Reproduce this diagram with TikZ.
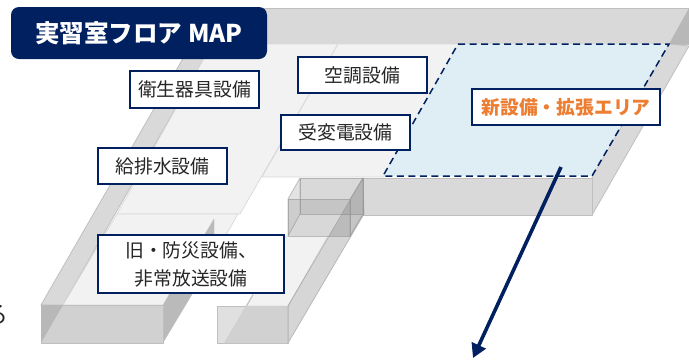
\documentclass[tikz,border=0pt]{standalone}
\usepackage{fontspec}
\setmainfont{Noto Sans CJK JP}
\usetikzlibrary{arrows.meta}
\definecolor{navy}{HTML}{002060}
\definecolor{wallc}{HTML}{D9D9D9}
\definecolor{wallline}{HTML}{BFBFBF}
\definecolor{floorc}{HTML}{F2F2F2}
\definecolor{newarea}{HTML}{DEEEF4}
\definecolor{orangec}{HTML}{ED7D31}
\tikzset{
  wall/.style={fill=wallc,draw=wallline,line width=0.8pt,line join=round},
  floorp/.style={fill=floorc,draw=wallc,line width=0.7pt,line join=round},
  glass/.style={fill=gray,fill opacity=0.22,draw=gray!80,draw opacity=0.6,line width=0.8pt,line join=round},
  label/.style={draw=navy,line width=1.4pt,fill=white,inner sep=0pt,align=center,text=black!85,
    font=\fontsize{18.8}{28}\selectfont},
  flowarrow/.style={draw=navy,line width=3.6pt,-{Triangle[length=14pt,width=15pt]}}
}
\begin{document}
\begin{tikzpicture}[x=1pt,y=-1pt]
\useasboundingbox (0,0) rectangle (689,360);
% top wall and right wall
\draw[wall] (212,8) -- (689,8) -- (689,44) -- (212,44) -- cycle;
\fill[black!28] (689,8) -- (669,44) -- (689,44) -- cycle;
\draw[wall] (669,44) -- (689,46) -- (592,215) -- (592,177) -- cycle;
% front wall of new area
\draw[wall] (363,178) -- (592,178) -- (592,215) -- (363,215) -- cycle;
% left wall band
\draw[wall] (212,8) -- (41,305) -- (63,305) -- (233,8) -- cycle;
% floors
\draw[floorp] (212,44) -- (338,44) -- (240,214) -- (117,214) -- cycle;
\draw[floorp] (338,44) -- (460,44) -- (383,177) -- (262,177) -- cycle;
\draw[floorp] (117,214) -- (238,214) -- (214,256) -- (214,219) -- (163,305) -- (63,305) -- cycle;
\draw[floorp] (286,236) -- (328,236) -- (288,306) -- (246,306) -- cycle;
% lower left block
\fill[black!27] (214,219) -- (214,258) -- (163,343) -- (163,305) -- cycle;
\draw[wall,fill=black!18] (41,305) -- (163,305) -- (163,343) -- (41,343) -- cycle;
\fill[black!28] (41,305) -- (63,305) -- (41,343) -- cycle;
% lower right block
\draw[wall,fill=black!12] (217,306) -- (288,306) -- (288,343) -- (217,343) -- cycle;
\draw[wallline,line width=0.8pt] (225,343) -- (253,295);
\fill[black!18] (225,343) -- (246,306) -- (288,306) -- (288,343) -- cycle;
% translucent box
\fill[floorc] (288,236) -- (300,214) -- (363,214) -- (350,236) -- cycle;
\fill[wallc] (300,178) -- (363,178) -- (363,214) -- (300,214) -- cycle;
\draw[draw=gray!80,draw opacity=0.6,line width=0.8pt] (300,178) rectangle (363,214);
\draw[glass] (300,178) -- (288,199) -- (288,236) -- (300,214) -- cycle;
\draw[glass] (288,199) rectangle (350,236);
\draw[glass,fill opacity=0.1] (363,214) -- (350,236) -- (350,199) -- (363,178) -- cycle;
% right lower wall band
\draw[glass,fill opacity=0.32] (363,178) -- (288,306) -- (288,343) -- (364,214) -- cycle;
\draw[wallline,line width=1pt] (288,306) -- (288,343);
% new area
\draw[navy,fill=newarea,line width=1.5pt,dash pattern=on 7pt off 4.5pt] (458,44) -- (669,44) -- (592,176) -- (383,176) -- cycle;
% arrow
\coordinate (arrowstart) at (561,167);
\coordinate (arrowend) at (473,358);
\draw[flowarrow] (arrowstart) -- (arrowend);
% title
\node[fill=navy,rounded corners=8pt,minimum width=256pt,minimum height=52pt,inner sep=0pt,text=white,
  font=\fontsize{24.5}{28}\selectfont\bfseries] (title) at (139,33) {実習室フロア MAP};
% labels
\node[label,minimum width=129pt,minimum height=37pt] (eisei) at (194.5,89.5) {衛生器具設備};
\node[label,minimum width=129pt,minimum height=36pt] (kucho) at (362.5,75) {空調設備};
\node[label,minimum width=129pt,minimum height=35pt] (juhen) at (345.5,132.5) {受変電設備};
\node[label,minimum width=129pt,minimum height=36pt] (kyuhai) at (162.5,166) {給排水設備};
\node[label,minimum width=186pt,minimum height=58pt] (kyu) at (191,264) {旧・防災設備、\\非常放送設備};
\node[label,minimum width=188pt,minimum height=36pt,text=orangec,font=\fontsize{18.8}{28}\selectfont\bfseries] (shin) at (566,107) {新設備・拡張エリア};
% character cut off by the left edge, as in the reference
\node[inner sep=0pt,text=black!85,font=\fontsize{24}{28}\selectfont] (cut) at (-4,315) {る};
\end{tikzpicture}
\end{document}
